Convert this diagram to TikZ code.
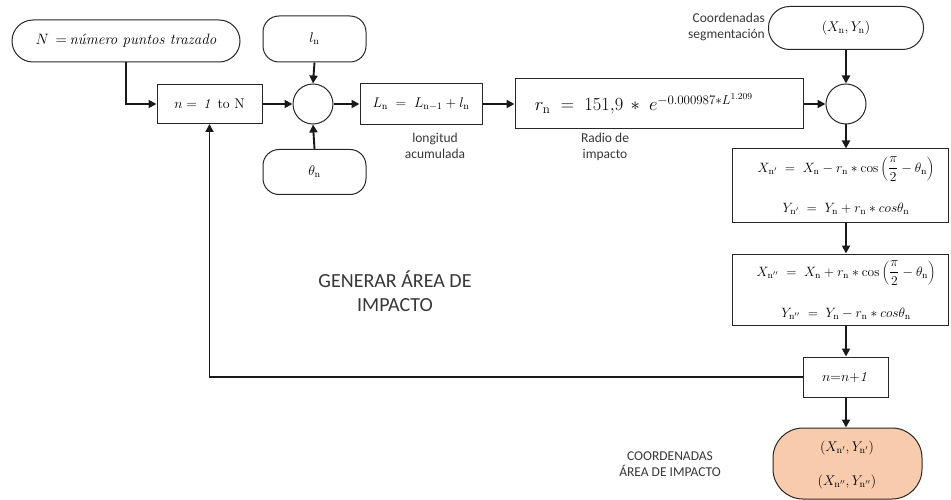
\RequirePackage{fix-cm}
\documentclass[tikz,border=0pt]{standalone}
\usepackage[no-math]{fontspec}
\setmainfont{Carlito}
\newfontfamily\serif{Latin Modern Roman}
\usetikzlibrary{arrows.meta}
\definecolor{salmon}{RGB}{248,203,173}
\definecolor{txt}{RGB}{55,55,55}
\tikzset{
  blk/.style={draw=black!85, line width=1pt, rectangle, inner sep=0pt, align=center},
  stad/.style={draw=black!85, line width=1pt, inner sep=0pt, align=center},
  sumc/.style={draw=black!85, line width=1pt, circle, minimum size=40pt, inner sep=0pt},
  arr/.style={-{Triangle[length=8pt,width=8pt]}, line width=1.9pt, black!90},
  lbl/.style={text=txt, font=\fontsize{13.5}{16}\selectfont, align=center, inner sep=0pt},
  fm/.style={font=\fontsize{14}{16}\selectfont},
  fb/.style={font=\fontsize{13.5}{16}\selectfont}
}
\begin{document}
\begin{tikzpicture}[x=1pt,y=-1pt]
\useasboundingbox (0,0) rectangle (951,500);
% top row
\node[stad, rounded corners=21pt, minimum width=228pt, minimum height=42pt, font=\fontsize{15}{17}\selectfont] (N) at (126,41)
  {$N\,=\,${\serif\itshape número puntos trazado}};
\node[blk, minimum width=105pt, minimum height=39pt, fm] (n1) at (209.5,104) {$n=\,\mathit{1}$\, {\serif to N}};
\node[sumc] (c1) at (313,104) {};
\node[stad, rounded corners=16pt, minimum width=103pt, minimum height=46pt, fm] (ln) at (314.5,39) {$l_{\mathrm{n}}$};
\node[stad, rounded corners=16pt, minimum width=103pt, minimum height=45pt, fm] (th) at (314.5,172) {$\theta_{\mathrm{n}}$};
\node[blk, minimum width=122pt, minimum height=41pt, fm] (L) at (421,104) {$L_{\mathrm{n}} \;=\; L_{\mathrm{n}-1} + l_{\mathrm{n}}$};
\node[lbl] (Llab) at (435,146) {longitud\\acumulada};
\node[blk, minimum width=288pt, minimum height=50pt, font=\fontsize{18.5}{22}\selectfont] (r) at (659,104)
  {$r_{\mathrm{n}} \;=\; 151{,}9 \,*\; e^{-0.000987*L^{1.209}}$\hspace*{30pt}};
\node[lbl] (rlab) at (605,147) {Radio de\\impacto};
\node[sumc] (c2) at (846,104) {};
\node[stad, rounded corners=21pt, minimum width=155pt, minimum height=43pt, fm] (XY) at (846,28) {$(X_{\mathrm{n}},Y_{\mathrm{n}})$};
\node[lbl, anchor=east, align=right] (XYlab) at (765,27) {Coordenadas\\segmentación};
% right column
\node[blk, minimum width=216pt, minimum height=73pt] (b1) at (840,185.5) {};
\node[fb] (b1a) at (846,169) {$\displaystyle X_{\mathrm{n}'} \;=\; X_{\mathrm{n}} - r_{\mathrm{n}} * \cos\left(\frac{\pi}{2} - \theta_{\mathrm{n}}\right)$};
\node[fb] (b1b) at (846,209) {$Y_{\mathrm{n}'} \;=\; Y_{\mathrm{n}} + r_{\mathrm{n}} * cos\theta_{\mathrm{n}}$};
\node[blk, minimum width=216pt, minimum height=71pt] (b2) at (840,289.5) {};
\node[fb] (b2a) at (846,273) {$\displaystyle X_{\mathrm{n}''} \;=\; X_{\mathrm{n}} + r_{\mathrm{n}} * \cos\left(\frac{\pi}{2} - \theta_{\mathrm{n}}\right)$};
\node[fb] (b2b) at (846,314) {$Y_{\mathrm{n}''} \;=\; Y_{\mathrm{n}} - r_{\mathrm{n}} * cos\theta_{\mathrm{n}}$};
\node[blk, minimum width=85pt, minimum height=40pt, fm] (inc) at (845.5,377) {$n{=}n{+}\mathit{1}$};
\node[stad, fill=salmon, rounded corners=30pt, minimum width=149pt, minimum height=71pt, fm] (res) at (847.5,463.5) {};
\node[fm] (resa) at (847,448) {$(X_{\mathrm{n}'},Y_{\mathrm{n}'})$};
\node[fm] (resb) at (847,482) {$(X_{\mathrm{n}''},Y_{\mathrm{n}''})$};
\node[lbl] (reslab) at (670,464) {COORDENADAS\\ÁREA DE IMPACTO};
\node[lbl, font=\fontsize{20}{24}\selectfont] (gen) at (395,291) {GENERAR ÁREA DE\\IMPACTO};
% connectors
\draw[arr] (N.south) |- (n1.west);
\draw[arr] (n1.east) -- (c1.west);
\draw[arr] (ln.south) -- (c1.north);
\draw[arr] (th.north) -- (c1.south);
\draw[arr] (c1.east) -- (L.west);
\draw[arr] (L.east) -- (r.west);
\draw[arr] (r.east) -- (c2.west);
\draw[arr] (XY.south) -- (c2.north);
\draw[arr] (c2.south) -- (c2.south |- b1.north);
\draw[arr] (b1.south -| c2) -- (b2.north -| c2);
\draw[arr] (b2.south -| c2) -- (inc.north -| c2);
\draw[arr] (inc.south -| c2) -- (res.north -| c2);
\draw[arr] (inc.west) -| (n1.south);
\end{tikzpicture}
\end{document}
